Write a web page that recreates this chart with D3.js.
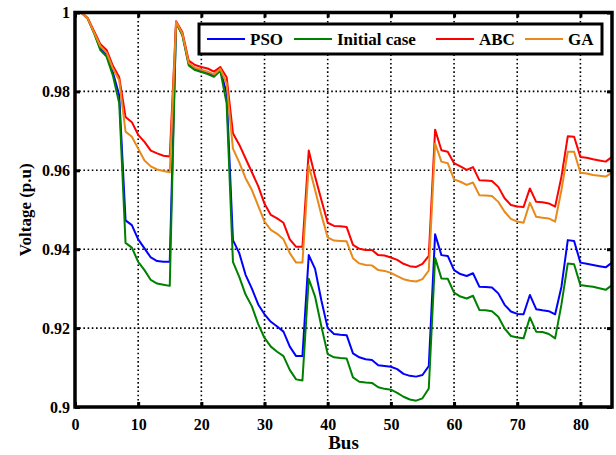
<!DOCTYPE html>
<html>
<head>
<meta charset="utf-8" />
<script src="https://cdn.jsdelivr.net/npm/d3@7"></script>
<style>
  body { margin: 0; background: #fff; }
  svg { display: block; font-family: "Liberation Serif", serif; font-weight: bold; }
</style>
</head>
<body>
<svg id="chart" width="616" height="455"></svg>
<script>
const buses = d3.range(1, 86);

const pso = [
  1.0, 0.9985, 0.995, 0.991, 0.9892, 0.9848, 0.979, 0.9473, 0.9461, 0.9425,
  0.9402, 0.9379, 0.937, 0.9368, 0.9368, 0.9975, 0.9944, 0.987, 0.9857, 0.9852,
  0.9847, 0.984, 0.9855, 0.9795, 0.9423, 0.939, 0.9335, 0.93, 0.926, 0.9235,
  0.9216, 0.9204, 0.9191, 0.9153, 0.9129, 0.9129, 0.9385, 0.935, 0.927, 0.92,
  0.9185, 0.9183, 0.9182, 0.9136, 0.9126, 0.9121, 0.9119, 0.9106, 0.9104, 0.9102,
  0.9096, 0.9084, 0.9079, 0.9077, 0.9081, 0.9104, 0.9438, 0.9385, 0.9383, 0.9347,
  0.9337, 0.9332, 0.9339, 0.9305, 0.9304, 0.9303, 0.9288, 0.9259, 0.9242, 0.9236,
  0.9235, 0.9284, 0.9248, 0.9245, 0.9243, 0.9235, 0.9305, 0.9423, 0.9421, 0.9366,
  0.9363, 0.936, 0.9357, 0.9354, 0.9366
];

const initialCase = [
  1.0, 0.9985, 0.9948, 0.9905, 0.9888, 0.984, 0.977, 0.9416, 0.9404, 0.9368,
  0.9347, 0.9322, 0.9313, 0.931, 0.9307, 0.9974, 0.9942, 0.9866, 0.9854, 0.9849,
  0.9844, 0.9837, 0.9852, 0.977, 0.9368, 0.933, 0.9285, 0.9255, 0.921, 0.9175,
  0.9153, 0.914, 0.9129, 0.9094, 0.907, 0.9067, 0.9325, 0.928, 0.9204, 0.9134,
  0.9126, 0.9124, 0.9123, 0.9075, 0.9064, 0.9062, 0.9061, 0.905, 0.9046, 0.9044,
  0.9036, 0.9026, 0.9019, 0.9016, 0.9022, 0.9047, 0.9378, 0.9326, 0.9325, 0.929,
  0.928, 0.9275, 0.9282, 0.9246, 0.9245, 0.9243, 0.9229, 0.9199, 0.918, 0.9176,
  0.9174, 0.9227, 0.9191, 0.919, 0.9185, 0.9174, 0.926, 0.9364, 0.9362, 0.9309,
  0.9307, 0.9305, 0.9301, 0.9297, 0.9309
];

const abc = [
  1.0, 0.9986, 0.9953, 0.992, 0.9905, 0.9865, 0.9836, 0.9735, 0.9722, 0.969,
  0.9672, 0.965, 0.9643, 0.9637, 0.9635, 0.9978, 0.995, 0.9878, 0.9867, 0.9862,
  0.9858, 0.985, 0.9862, 0.9836, 0.9694, 0.9665, 0.963, 0.9595, 0.956, 0.9515,
  0.9487, 0.9478, 0.9467, 0.9425, 0.9406, 0.9406, 0.965, 0.9584, 0.9525, 0.9467,
  0.9459, 0.9458, 0.9456, 0.9411, 0.9401, 0.9398, 0.9398, 0.9385, 0.9384, 0.9379,
  0.9373, 0.9363, 0.9357, 0.9355, 0.9363, 0.9383, 0.9703, 0.9651, 0.9647, 0.9618,
  0.961, 0.9601, 0.9608, 0.9575, 0.9574, 0.9573, 0.9558, 0.9529, 0.9512, 0.9508,
  0.9507, 0.9554, 0.952, 0.9519, 0.9516, 0.9508, 0.9584, 0.9686, 0.9685, 0.9634,
  0.9632, 0.9628, 0.9625, 0.9622, 0.9634
];

const ga = [
  1.0, 0.9985, 0.995, 0.9915, 0.9898, 0.9858, 0.9828, 0.9698, 0.9685, 0.9655,
  0.9625, 0.961, 0.9602, 0.9598, 0.9595, 0.9976, 0.9946, 0.9872, 0.986, 0.9855,
  0.985, 0.9843, 0.9857, 0.982, 0.9655, 0.962, 0.958, 0.955, 0.951, 0.947,
  0.9449, 0.9439, 0.9425, 0.939, 0.9366, 0.9366, 0.9613, 0.955, 0.9487, 0.943,
  0.9422, 0.9421, 0.942, 0.9377, 0.9364, 0.936, 0.9359, 0.9347, 0.9345, 0.934,
  0.9332, 0.9324, 0.932, 0.9318, 0.9324, 0.9346, 0.9668, 0.9622, 0.9618, 0.9577,
  0.9571, 0.9563, 0.9569, 0.9537, 0.9536, 0.9535, 0.952, 0.9495, 0.9477, 0.947,
  0.9467, 0.9518, 0.9482, 0.948, 0.9478, 0.947, 0.955, 0.9647, 0.9647, 0.9594,
  0.9592, 0.9588, 0.9586, 0.9584, 0.9594
];

const seriesNames = ["PSO", "Initial case", "ABC", "GA"];
const seriesColors = ["#0000ff", "#008000", "#ff0000", "#e8891a"];
const xTicks = [0, 10, 20, 30, 40, 50, 60, 70, 80];
const yTicks = [0.9, 0.92, 0.94, 0.96, 0.98, 1];

const svg = d3.select("#chart");
const margin = { top: 12.5, right: 4, bottom: 48, left: 75 };
const width = 616 - margin.left - margin.right;
const height = 455 - margin.top - margin.bottom;

const x = d3.scaleLinear().domain([0, 85]).range([0, width]);
const y = d3.scaleLinear().domain([0.9, 1]).range([height, 0]);

const g = svg
  .append("g")
  .attr("transform", `translate(${margin.left}, ${margin.top})`);

// grid
g.append("g")
  .selectAll("line")
  .data(xTicks.slice(1))
  .enter()
  .append("line")
  .attr("x1", (d) => x(d))
  .attr("x2", (d) => x(d))
  .attr("y1", 0)
  .attr("y2", height)
  .style("stroke", "#000")
  .style("stroke-width", 1.6)
  .style("stroke-dasharray", "1.6,2.6");

g.append("g")
  .selectAll("line")
  .data(yTicks.slice(1, -1))
  .enter()
  .append("line")
  .attr("x1", 0)
  .attr("x2", width)
  .attr("y1", (d) => y(d))
  .attr("y2", (d) => y(d))
  .style("stroke", "#000")
  .style("stroke-width", 1.6)
  .style("stroke-dasharray", "1.6,2.6");

// lines
const allSeries = [pso, initialCase, abc, ga];
const line = d3
  .line()
  .x((d, i) => x(buses[i]))
  .y((d) => y(d));

g.selectAll(".series")
  .data(allSeries)
  .enter()
  .append("path")
  .attr("class", "series")
  .attr("d", (d) => line(d))
  .style("fill", "none")
  .style("stroke", (d, i) => seriesColors[i])
  .style("stroke-width", 2)
  .style("stroke-linejoin", "round");

// axes
g.append("g")
  .attr("transform", `translate(0, ${height})`)
  .call(d3.axisBottom(x).tickValues(xTicks).tickSize(-5).tickPadding(12).tickFormat(d3.format("d")));
g.append("g")
  .call(
    d3
      .axisLeft(y)
      .tickValues(yTicks)
      .tickSize(-5)
      .tickPadding(5)
      .tickFormat((d) => (d === 1 ? "1" : d === 0.9 ? "0.9" : d3.format(".2f")(d)))
  );
g.append("g")
  .call(d3.axisTop(x).tickValues(xTicks).tickSize(-5).tickFormat(""));
g.append("g")
  .attr("transform", `translate(${width}, 0)`)
  .call(d3.axisRight(y).tickValues(yTicks).tickSize(-5).tickFormat(""));

g.selectAll(".domain").remove();
g.selectAll(".tick line").style("stroke", "#000").style("stroke-width", 3);
g.selectAll(".tick text")
  .style("font-size", "16px")
  .style("font-weight", "bold")
  .style("font-family", "Liberation Serif, serif")
  .style("fill", "#000");

g.append("rect")
  .attr("x", 0)
  .attr("y", 0)
  .attr("width", width)
  .attr("height", height)
  .style("fill", "none")
  .style("stroke", "#000")
  .style("stroke-width", 3.5);

// axis labels
svg
  .append("text")
  .attr("x", margin.left + width / 2)
  .attr("y", 449)
  .attr("text-anchor", "middle")
  .style("font-size", "19px")
  .text("Bus");

svg
  .append("text")
  .attr("transform", `translate(31, ${margin.top + height / 2}) rotate(-90)`)
  .attr("text-anchor", "middle")
  .style("font-size", "17px")
  .text("Voltage (p.u)");

// legend
const legend = svg.append("g").attr("transform", "translate(199, 24)");
legend
  .append("rect")
  .attr("width", 403)
  .attr("height", 30)
  .style("fill", "#fff")
  .style("stroke", "#000")
  .style("stroke-width", 3);

const legendX = [8, 95, 237, 326];
const item = legend
  .selectAll(".item")
  .data(seriesNames)
  .enter()
  .append("g")
  .attr("class", "item")
  .attr("transform", (d, i) => `translate(${legendX[i]}, 15)`);
item
  .append("line")
  .attr("x1", 0)
  .attr("x2", 38)
  .style("stroke", (d, i) => seriesColors[i])
  .style("stroke-width", 2);
item
  .append("text")
  .attr("x", 43)
  .attr("dy", "0.35em")
  .style("font-size", "17px")
  .text((d) => d);
</script>
</body>
</html>
